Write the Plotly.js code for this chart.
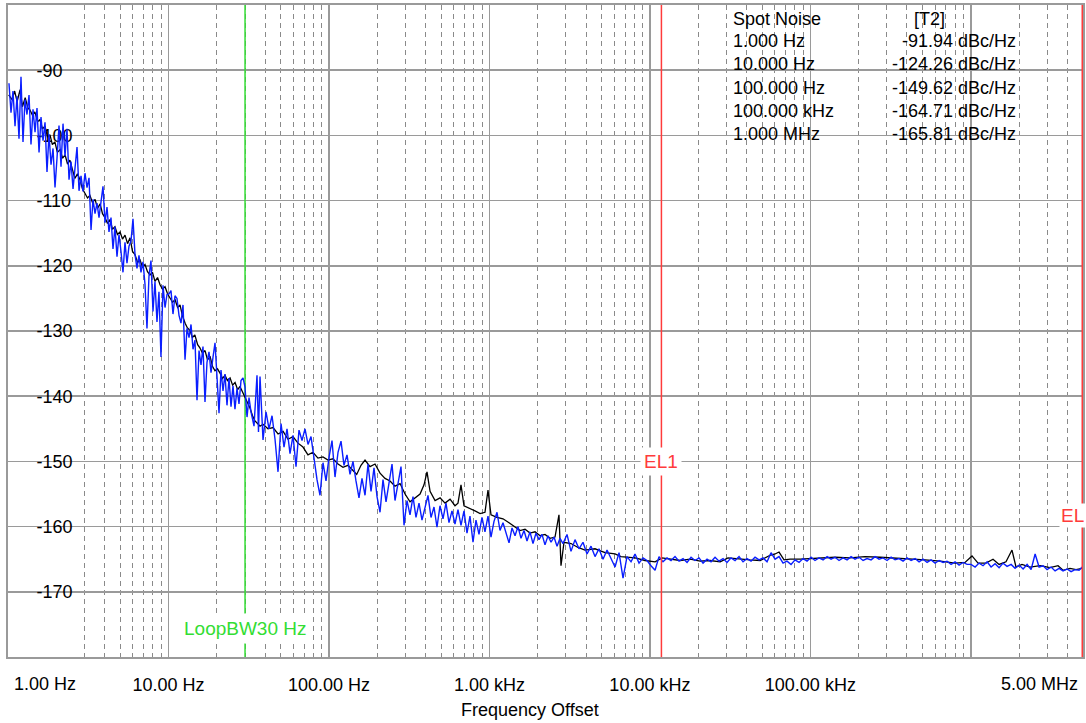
<!DOCTYPE html>
<html>
<head>
<meta charset="utf-8">
<script src="https://cdn.plot.ly/plotly-3.0.1.min.js"></script>
<style>
html,body{margin:0;padding:0;overflow:hidden;background:#fff;}
#chart{width:1086px;height:723px;}
</style>
</head>
<body>
<div id="chart"></div>
<script>
// ---------------- data ----------------
const xTickVals = [1, 10, 100, 1000, 10000, 100000, 1000000, 5000000];
const xTickText = ['', '10.00 Hz', '100.00 Hz', '1.00 kHz', '10.00 kHz', '100.00 kHz', '', ''];
const xEndLabels = ['1.00 Hz', '5.00 MHz'];
const yTickVals = [-170, -160, -150, -140, -130, -120, -110, -100, -90];
const yTickText = ['-170', '-160', '-150', '-140', '-130', '-120', '-110', '-100', '-90'];
const xRangeHz = [1, 5000000];
const yRange = [-180, -80];

const loopBwFreq = 30;
const el1Freq = 11800;
const el2Freq = 5000000;

const spotTitle = 'Spot Noise';
const spotTrace = '[T2]';
const spotLabels = ['1.000 Hz', '10.000 Hz', '100.000 Hz', '100.000 kHz', '1.000 MHz'];
const spotValues = ['-91.94', '-124.26', '-149.62', '-164.71', '-165.81'];
const spotUnit = 'dBc/Hz';

// black trace (T1)
const blackFreq = [
1.01,1.06,1.10,1.14,1.19,1.23,1.28,1.33,1.37,1.42,
1.47,1.53,1.58,1.64,1.70,1.76,1.83,1.89,1.96,2.03,
2.11,2.19,2.27,2.35,2.43,2.52,2.61,2.71,2.81,2.91,
3.02,3.13,3.24,3.36,3.49,3.61,3.75,3.88,4.02,4.17,
4.32,4.48,4.64,4.81,4.99,5.17,5.36,5.56,5.76,5.97,
6.19,6.42,6.65,6.89,7.14,7.40,7.67,7.95,8.24,8.55,
8.86,9.18,9.52,9.87,10.2,10.6,11.0,11.4,11.8,12.2,
12.7,13.1,13.6,14.1,14.6,15.2,15.7,16.3,16.9,17.5,
18.2,18.8,19.5,20.2,21.0,21.7,22.5,23.3,24.2,25.1,
26.0,27.0,27.9,29.0,30.0,31.1,32.2,33.4,34.6,35.9,
37.2,
38.8,41.7,44.8,48.2,51.8,55.6,59.7,64.1,68.9,74.0,
79.5,85.4,91.8,98.6,105.9,113.9,122.3,131.4,141.2,148.9,
158.4,167.8,180.3,193.7,208.1,223.6,240.3,258.0,277.4,298.0,
320.2,344.0,369.6,391.3,408.4,426.7,458.4,492.5,529.1,568.6,
610.2,637.0,665.1,694.3,756.7,813.0,874.7,938.3,979.9,1023,
1115,1215,1325,1444,1553,1667,1790,1924,2070,2220,
2389,2563,2713,2793,2916,3224,3566,3942,4550,5252,
6064,6607,8080,9325,10770,11900,13350,15450,17830,20580,
23700,27430,30680,36540,42050,48690,56070,60250,63810,68520,
74750,86450,99520,115200,142500,176600,219000,272500,337200,417800,
518100,644600,797600,919900,1017000,1109000,1243000,1375000,1500000,1656000,
1805000,1912000,2084000,2338000,2707000,3115000,3494000,3757000,4150000,4524000,
4935000
];
const blackLevel = [
-93.8,-94.5,-93.2,-94.8,-93.0,-95.6,-94.2,-95.8,-96.1,-96.9,
-96.4,-97.9,-97.6,-99.0,-98.6,-100.2,-100.0,-101.4,-101.0,-102.6,
-102.2,-103.5,-103.0,-104.4,-103.8,-105.2,-106.6,-105.9,-106.8,-108.2,
-108.9,-109.6,-109.2,-110.3,-109.8,-111.2,-110.5,-112.0,-112.6,-113.5,
-112.9,-114.4,-114.0,-115.2,-114.8,-115.9,-115.3,-116.6,-115.7,-117.8,
-118.3,-119.5,-119.1,-120.2,-119.8,-120.9,-121.4,-121.0,-122.4,-121.8,
-122.9,-123.6,-123.2,-124.3,-124.9,-125.6,-125.2,-126.4,-126.0,-127.6,
-128.8,-129.5,-129.9,-131.0,-130.6,-132.1,-132.6,-133.4,-133.0,-134.4,
-134.0,-135.4,-136.1,-135.8,-136.5,-137.3,-136.8,-137.6,-137.2,-138.3,
-137.9,-139.0,-138.5,-139.4,-140.2,-141.0,-141.8,-143.0,-143.8,-144.2,
-144.6,
-144.3,-145.0,-144.8,-145.8,-145.4,-146.6,-146.2,-147.2,-147.8,-149.0,
-148.6,-149.5,-149.3,-149.8,-149.6,-150.4,-150.9,-150.6,-151.4,-152.0,
-150.6,-149.8,-150.8,-150.4,-151.8,-152.6,-153.0,-153.8,-153.4,-155.0,
-156.2,-155.6,-155.0,-153.6,-151.6,-154.6,-156.0,-155.6,-156.4,-155.8,
-156.8,-156.4,-153.6,-156.8,-157.2,-157.6,-158.0,-157.8,-154.4,-158.2,
-158.6,-158.8,-159.4,-160.0,-160.6,-160.4,-161.0,-160.8,-161.4,-161.2,
-161.8,-161.6,-158.2,-166.0,-162.4,-162.6,-163.2,-163.6,-163.4,-164.0,
-164.2,-164.6,-164.8,-165.2,-165.4,-164.8,-165.0,-165.2,-165.0,-165.3,
-165.2,-165.4,-164.8,-165.0,-165.1,-165.2,-164.4,-164.2,-163.9,-165.1,
-165.0,-165.0,-164.9,-164.8,-164.7,-164.8,-164.6,-164.7,-164.8,-165.0,
-165.1,-165.3,-165.6,-165.5,-164.5,-165.6,-165.6,-165.0,-165.8,-165.4,
-163.6,-166.2,-165.8,-166.2,-166.0,-166.3,-166.0,-166.7,-166.4,-166.6,
-166.4
];

// blue trace (T2)
const blueFreq = [
1.014,1.044,1.074,1.106,1.138,1.171,1.205,1.240,1.276,1.313,
1.352,1.391,1.432,1.474,1.516,1.561,1.606,1.653,1.701,1.750,
1.801,1.854,1.908,1.963,2.020,2.079,2.140,2.202,2.266,2.332,
2.400,2.470,2.542,2.616,2.692,2.770,2.851,2.934,3.019,3.107,
3.198,3.291,3.386,3.485,3.586,3.691,3.798,3.908,4.022,4.139,
4.260,4.384,4.511,4.643,4.778,4.917,5.060,5.207,5.358,5.514,
5.675,5.840,6.010,6.184,6.364,6.550,6.740,6.936,7.138,7.346,
7.559,7.779,8.006,8.239,8.479,8.725,8.979,9.246,9.515,9.791,
10.08,10.37,10.67,10.98,11.30,11.63,11.97,12.32,12.68,13.05,
13.43,13.82,14.22,14.63,15.06,15.50,15.95,16.41,16.89,17.38,
17.89,18.41,18.95,19.50,20.06,20.65,21.25,21.87,22.50,23.16,
23.83,24.53,25.24,25.97,26.73,27.51,28.31,29.14,29.99,30.86,
31.76,
32.68,34.12,35.62,36.39,37.19,38.83,40.54,42.32,44.19,46.13,
48.16,50.28,52.48,54.79,57.20,59.71,62.34,65.08,67.94,70.93,
74.05,77.31,80.71,84.26,87.96,91.83,95.87,100.1,104.5,109.1,
113.9,118.9,124.1,129.6,135.3,141.2,147.4,153.9,160.7,167.8,
175.2,182.9,190.9,199.3,208.1,217.2,226.8,236.7,247.2,258.0,
269.4,281.2,293.6,306.5,320.0,334.1,348.7,364.1,380.1,396.8,
414.2,432.5,451.5,471.3,492.1,513.7,536.3,559.9,584.5,610.2,
637.0,665.1,694.3,724.8,756.7,790.0,824.7,861.0,898.8,938.3,
979.9,1023,1068,1115,1164,1215,1269,1325,1383,1444,
1507,1573,1643,1715,1790,1869,1951,2037,2127,2220,
2318,2420,2526,2638,2754,
2875,3045,3224,3415,3616,3830,4057,4296,4550,4819,
5104,5406,5725,6064,6422,6801,7203,7629,8080,8558,
9063,9596,10160,10770,11400,12070,12790,13540,14340,15190,
16090,17040,18050,19110,20240,21440,22710,24040,25470,26970,
28560,30250,32040,33940,35940,38060,40310,42690,45210,47890,
50720,53710,56890,60250,63810,67580,71570,75800,80280,85030,
90050,95350,101000,106900,113300,120000,127100,134600,142500,150900,
159800,169300,179300,189900,201100,213000,225600,238900,253000,268000,
283800,300600,318400,337200,357100,378200,400500,424200,449300,475800,
503900,533700,565200,598600,634000,671400,711100,753100,797600,844700,
894600,947500,1003000,1063000,1126000,1192000,1263000,1337000,1416000,1500000,
1588000,1682000,1782000,1887000,1999000,2117000,2242000,2374000,2515000,2663000,
2820000,2987000,3163000,3350000,3548000,3757000,3979000,4214000,4463000,4727000,
4935000
];
const blueLevel = [
-92.0,-96.5,-93.2,-98.6,-94.0,-100.5,-91.0,-101.0,-94.5,-96.8,
-93.8,-101.4,-96.0,-99.5,-95.8,-102.6,-97.2,-100.8,-98.0,-105.6,
-99.8,-104.5,-102.0,-108.0,-103.5,-98.5,-104.8,-98.2,-103.2,-99.0,
-106.8,-104.0,-108.2,-105.0,-101.8,-108.5,-106.2,-108.6,-105.8,-108.0,
-106.5,-114.5,-109.8,-112.0,-110.4,-112.6,-110.2,-107.8,-113.4,-111.0,
-114.8,-112.6,-117.4,-114.0,-118.6,-115.2,-117.8,-121.0,-116.4,-119.6,
-117.0,-116.2,-112.8,-118.2,-120.4,-118.4,-121.0,-119.4,-122.8,-129.6,
-121.6,-119.2,-127.0,-122.4,-128.6,-124.0,-134.0,-123.0,-126.4,-124.4,
-124.3,-123.8,-127.4,-124.6,-125.0,-127.6,-128.8,-126.0,-134.4,-129.6,
-131.0,-129.0,-132.8,-131.4,-140.6,-133.0,-135.2,-132.4,-140.9,-134.8,
-133.2,-136.4,-134.0,-131.8,-137.0,-142.6,-136.0,-139.2,-136.6,-141.4,
-137.2,-141.6,-138.4,-142.0,-138.8,-141.2,-137.6,-137.2,-138.6,-143.2,
-140.2,
-142.4,-144.6,-136.8,-145.5,-137.0,-146.7,-142.4,-145.0,-143.0,-146.6,
-151.6,-144.2,-147.8,-145.0,-148.8,-146.0,-150.8,-145.2,-146.8,-145.0,
-147.4,-146.2,-149.6,-152.8,-155.2,-150.2,-153.0,-149.4,-146.8,-152.4,
-148.6,-146.9,-150.6,-149.0,-152.0,-150.0,-153.0,-155.6,-152.6,-155.2,
-150.4,-154.6,-151.0,-155.4,-157.8,-152.8,-156.2,-153.4,-150.4,-156.0,
-153.6,-150.8,-159.8,-156.0,-158.2,-155.4,-158.6,-156.4,-159.0,-157.0,
-155.2,-158.6,-157.0,-160.1,-156.8,-158.8,-156.4,-159.4,-157.6,-159.6,
-157.4,-159.8,-157.6,-161.0,-158.4,-162.4,-159.0,-161.2,-158.6,-160.8,
-158.4,-161.6,-159.2,-157.8,-160.6,-159.4,-161.0,-162.5,-160.2,-161.4,
-160.0,-161.8,-160.6,-162.2,-160.8,-162.6,-161.0,-162.0,-161.2,-162.8,
-161.4,-162.4,-161.6,-163.0,-161.8,
-162.6,-161.2,-163.8,-162.0,-163.4,-162.4,-164.2,-163.0,-164.6,-163.4,
-165.0,-163.6,-164.8,-166.2,-164.0,-167.9,-164.6,-165.4,-164.2,-165.6,
-164.8,-165.2,-166.0,-166.7,-164.6,-165.4,-164.8,-165.2,-164.6,-165.3,
-164.9,-165.5,-164.7,-165.2,-164.8,-165.6,-165.0,-165.4,-164.7,-165.3,
-164.9,-165.5,-164.8,-165.2,-164.6,-165.4,-164.9,-165.3,-164.7,-165.1,
-164.8,-165.4,-164.0,-165.0,-164.6,-165.6,-165.3,-165.8,-165.1,-165.5,
-164.9,-165.3,-164.7,-165.2,-164.8,-165.1,-164.6,-165.0,-164.7,-165.2,
-164.8,-165.1,-164.6,-165.0,-164.7,-165.2,-164.9,-165.1,-164.6,-165.0,
-164.8,-165.2,-164.7,-165.1,-164.9,-165.3,-164.8,-165.2,-164.9,-165.4,
-165.0,-165.5,-165.1,-165.6,-165.2,-165.5,-165.3,-165.8,-165.4,-165.9,
-165.5,-165.8,-165.8,-166.2,-165.6,-166.0,-165.4,-166.2,-165.7,-166.3,
-165.6,-166.1,-165.8,-166.4,-165.9,-166.5,-165.8,-166.6,-164.2,-166.2,
-166.0,-166.6,-166.2,-166.8,-166.4,-166.8,-166.5,-166.9,-166.6,-166.7,
-166.2
];

// ---------------- styling / layout ----------------
const FONT = 'Liberation Sans, Arial, Helvetica, sans-serif';
const GRID = '#9a9a9a';
const MINORGRID = '#8a8a8a';
const BLUE = '#0a1eff';
const RED = '#ff3b3b';
const GREEN = '#33dd33';

const W = 1086, H = 723;
const M = {l: 8, r: 3, t: 5, b: 66};
const plotW = W - M.l - M.r, plotH = H - M.t - M.b;
const pxX = px => (px - M.l) / plotW;          // page px -> paper x
const pxY = py => 1 - (py - M.t) / plotH;      // page px -> paper y

// minor (dashed) gridlines at 2..9 of each decade within range
const minorVals = [];
for (let d = 1; d < xRangeHz[1]; d *= 10) {
  for (let m = 2; m <= 9; m++) { const v = m * d; if (v < xRangeHz[1]) minorVals.push(v); }
}

const traces = [
  {x: [loopBwFreq, loopBwFreq], y: yRange, mode: 'lines', line: {color: GREEN, width: 1.5}, hoverinfo: 'skip'},
  {x: blackFreq, y: blackLevel, mode: 'lines', line: {color: '#000000', width: 1.3}, name: 'T1'},
  {x: blueFreq, y: blueLevel, mode: 'lines', line: {color: BLUE, width: 1.4}, name: 'T2'},
  {x: [el1Freq, el1Freq], y: yRange, mode: 'lines', line: {color: RED, width: 1.5}, hoverinfo: 'skip'},
  {x: [el2Freq, el2Freq], y: yRange, mode: 'lines', line: {color: RED, width: 3}, hoverinfo: 'skip'}
];

const annotations = [];
// end labels of x axis
annotations.push({xref: 'paper', yref: 'paper', x: 0, y: 0, xanchor: 'left', yanchor: 'middle',
  xshift: 4, yshift: -27, text: xEndLabels[0], showarrow: false, font: {family: FONT, size: 18, color: '#000'}});
annotations.push({xref: 'paper', yref: 'paper', x: 1, y: 0, xanchor: 'right', yanchor: 'middle',
  xshift: -3, yshift: -27, text: xEndLabels[1], showarrow: false, font: {family: FONT, size: 18, color: '#000'}});
// axis title
annotations.push({xref: 'paper', yref: 'paper', x: pxX(530), y: 0, xanchor: 'center', yanchor: 'middle',
  yshift: -53, text: 'Frequency Offset', showarrow: false, font: {family: FONT, size: 18, color: '#000'}});
// spot noise table
const rowY = [18.5, 41.5, 64.5, 87.5, 110.5, 133.5];
annotations.push({xref: 'paper', yref: 'paper', x: pxX(731), y: pxY(rowY[0]), xanchor: 'left', yanchor: 'middle',
  text: spotTitle, showarrow: false, font: {family: FONT, size: 18, color: '#000'}});
annotations.push({xref: 'paper', yref: 'paper', x: pxX(929), y: pxY(rowY[0]), xanchor: 'center', yanchor: 'middle',
  text: spotTrace, showarrow: false, font: {family: FONT, size: 18, color: '#000'}});
spotLabels.forEach((lab, i) => {
  annotations.push({xref: 'paper', yref: 'paper', x: pxX(731), y: pxY(rowY[i + 1]), xanchor: 'left', yanchor: 'middle',
    text: lab, showarrow: false, font: {family: FONT, size: 18, color: '#000'}});
  annotations.push({xref: 'paper', yref: 'paper', x: pxX(1018), y: pxY(rowY[i + 1]), xanchor: 'right', yanchor: 'middle',
    text: spotValues[i] + ' ' + spotUnit, showarrow: false, font: {family: FONT, size: 18, color: '#000'}});
});
// marker labels
annotations.push({xref: 'x', yref: 'y', x: Math.log10(el1Freq), y: -150, xanchor: 'center', yanchor: 'middle',
  text: 'EL1', showarrow: false, bgcolor: '#ffffff', borderpad: 3, font: {family: FONT, size: 19, color: RED}});
annotations.push({xref: 'paper', yref: 'paper', x: 1, y: pxY(515), xanchor: 'right', yanchor: 'middle', xshift: 3,
  text: 'EL', showarrow: false, bgcolor: '#ffffff', borderpad: 1, font: {family: FONT, size: 19, color: RED}});
annotations.push({xref: 'x', yref: 'paper', x: Math.log10(loopBwFreq), y: pxY(628), xanchor: 'center', yanchor: 'middle',
  text: 'LoopBW30 Hz', showarrow: false, bgcolor: '#ffffff', borderpad: 4, font: {family: FONT, size: 19, color: GREEN}});

// white boxes behind y tick labels (above grid, below traces)
const shapes = yTickVals.map((v, i) => ({
  type: 'rect', layer: 'between', xref: 'paper', yref: 'y',
  xsizemode: 'pixel', xanchor: 0, x0: 23, x1: yTickText[i].length > 3 ? 70 : 60,
  ysizemode: 'pixel', yanchor: v, y0: -9, y1: 9,
  fillcolor: '#ffffff', line: {width: 0}
}));

const layout = {
  width: W, height: H,
  margin: {l: M.l, r: M.r, t: M.t, b: M.b, pad: 0},
  paper_bgcolor: '#ffffff', plot_bgcolor: '#ffffff',
  showlegend: false,
  font: {family: FONT, size: 18, color: '#000'},
  xaxis: {
    type: 'log', range: [Math.log10(xRangeHz[0]), Math.log10(xRangeHz[1])],
    tickmode: 'array', tickvals: xTickVals, ticktext: xTickText,
    ticks: '', showgrid: true, gridcolor: GRID, gridwidth: 1.6,
    showline: true, linecolor: GRID, linewidth: 2, mirror: true,
    zeroline: false, layer: 'below traces',
    ticklabelstandoff: 10,
    tickfont: {family: FONT, size: 18, color: '#000'},
    minor: {tickmode: 'array', tickvals: minorVals, showgrid: true, gridcolor: MINORGRID, gridwidth: 1, griddash: '5px,4px', ticks: ''}
  },
  yaxis: {
    range: yRange, tickmode: 'array', tickvals: yTickVals, ticktext: yTickText,
    ticks: '', showgrid: true, gridcolor: GRID, gridwidth: 1.6,
    showline: true, linecolor: GRID, linewidth: 2, mirror: true,
    zeroline: false, layer: 'below traces',
    ticklabelposition: 'inside', ticklabelstandoff: 29,
    tickfont: {family: FONT, size: 18, color: '#000'}
  },
  annotations: annotations,
  shapes: shapes
};

Plotly.newPlot('chart', traces, layout, {staticPlot: true, displayModeBar: false});
</script>
</body>
</html>
